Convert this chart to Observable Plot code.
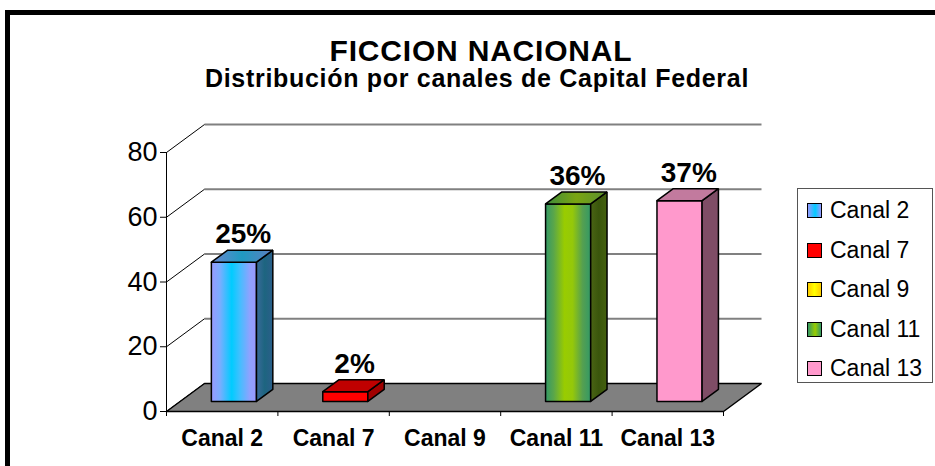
<!DOCTYPE html>
<html><head><meta charset="utf-8">
<script src="https://cdn.jsdelivr.net/npm/d3@7"></script>
<script src="https://cdn.jsdelivr.net/npm/@observablehq/plot@0.6"></script>
<style>
html,body{margin:0;padding:0;background:#fff;overflow:hidden;}
#wrap{position:relative;width:935px;height:466px;overflow:hidden;font-family:"Liberation Sans",Arial,sans-serif;color:#000;}
#frame{position:absolute;left:5px;top:10px;width:2000px;height:2000px;border-left:5px solid #000;border-top:5px solid #000;}
#title{position:absolute;left:0;width:962px;top:36px;text-align:center;font-weight:bold;font-size:30px;line-height:30px;letter-spacing:0.8px;white-space:nowrap;}
#subtitle{position:absolute;left:0;width:954px;top:66px;text-align:center;font-weight:bold;font-size:25px;line-height:25px;letter-spacing:0.7px;white-space:nowrap;}
#chart{position:absolute;left:0;top:0;}
#legend{position:absolute;left:797px;top:188px;width:136px;height:195px;border:1px solid #555;box-sizing:border-box;background:#fff;}
.item{position:absolute;left:0;height:23px;}
.sw{position:absolute;left:9px;width:13px;height:13px;border:1.5px solid #000;}
.lab{position:absolute;left:32px;font-size:23px;line-height:23px;white-space:nowrap;}
</style>
</head><body>
<div id="wrap">
  <div id="frame"></div>
  <div id="chart"></div>
  <div id="title">FICCION NACIONAL</div>
  <div id="subtitle">Distribución por canales de Capital Federal</div>
  <div id="legend"></div>
</div>
<script>
// ---- data ----
const channels = ["Canal 2", "Canal 7", "Canal 9", "Canal 11", "Canal 13"];
const values = [43, 3, 0, 61, 62];
const percentLabels = ["25%", "2%", "", "36%", "37%"];
const yTicks = [0, 20, 40, 60, 80];

// ---- styles ----
const barStyle = {
  "Canal 2": {
    front: [[0, "#9999FF"], [0.2, "#77AEFF"], [0.45, "#00CCFF"], [0.62, "#3EC0FF"], [0.85, "#8FA2FF"], [1, "#9999FF"]],
    side: [[0, "#3A6A9A"], [0.5, "#1D6580"], [1, "#2B5E8A"]],
    top: [[0, "#6A86D0"], [0.5, "#1F9AC0"], [1, "#5E7EC0"]],
    swatch: "linear-gradient(90deg,#9999FF,#00CCFF 55%,#9999FF)"
  },
  "Canal 7": {
    front: [[0, "#FF0000"], [1, "#FF0000"]],
    side: [[0, "#A00000"], [1, "#A00000"]],
    top: [[0, "#C00000"], [1, "#C00000"]],
    swatch: "#FF0000"
  },
  "Canal 9": {
    front: [[0, "#FFCC00"], [0.5, "#FFFF00"], [1, "#FFCC00"]],
    side: [[0, "#998000"], [1, "#998000"]],
    top: [[0, "#CCB000"], [1, "#CCB000"]],
    swatch: "linear-gradient(90deg,#FFCC00,#FFFF00 50%,#FFCC00)"
  },
  "Canal 11": {
    front: [[0, "#339966"], [0.18, "#5AA64A"], [0.42, "#99CC00"], [0.6, "#94C80A"], [0.82, "#55A050"], [1, "#339966"]],
    side: [[0, "#4A6414"], [0.5, "#3A560C"], [1, "#44600E"]],
    top: [[0, "#3F8C3C"], [0.5, "#7AA412"], [1, "#5A9030"]],
    swatch: "linear-gradient(90deg,#339966,#99CC00 55%,#339966)"
  },
  "Canal 13": {
    front: [[0, "#FF99CC"], [1, "#FF99CC"]],
    side: [[0, "#7F4D66"], [1, "#7F4D66"]],
    top: [[0, "#C27A9E"], [1, "#C27A9E"]],
    swatch: "#FF99CC"
  }
};

// ---- geometry ----
const W = 935, H = 466, mL = 166, mR = 212, mT = 152, mB = 55;
const yMax = yTicks[yTicks.length - 1];
const pxX = (W - mL - mR) / channels.length, pxY = (H - mT - mB) / yMax;
const DEPTH_X = 38, DEPTH_Y = 28;
const ddx = DEPTH_X / pxX, ddy = DEPTH_Y / pxY;
const P = (xu, v, d) => ({x: xu + d * ddx, y: v + d * ddy});
const d0 = 0.36, d1 = 0.79, b0 = 0.28, b1 = 0.685;
const n = channels.length;

const faces = [];
channels.forEach((c, i) => {
  const v = values[i];
  if (!(v > 0)) return;
  const x0 = i + b0, x1 = i + b1;
  faces.push({pts: [P(x0, 0, d0), P(x1, 0, d0), P(x1, v, d0), P(x0, v, d0)], fill: `url(#g${i}front)`});
  faces.push({pts: [P(x1, 0, d0), P(x1, 0, d1), P(x1, v, d1), P(x1, v, d0)], fill: `url(#g${i}side)`});
  faces.push({pts: [P(x0, v, d0), P(x1, v, d0), P(x1, v, d1), P(x0, v, d1)], fill: `url(#g${i}top)`});
});
const floor = [P(0, 0, 0), P(n, 0, 0), P(n, 0, 1), P(0, 0, 1)];
const closed = pts => [...pts, pts[0]];
const idx = d3.range(n);

const chart = Plot.plot({
  width: W, height: H,
  marginLeft: mL, marginRight: mR, marginTop: mT, marginBottom: mB,
  x: {type: "linear", domain: [0, n]},
  y: {type: "linear", domain: [0, yMax]},
  style: {fontFamily: '"Liberation Sans", Arial, sans-serif', background: "transparent", overflow: "visible"},
  marks: [
    // back wall gridlines
    Plot.link(yTicks.filter(v => v > 0), {
      x1: () => P(0, 0, 1).x, x2: () => P(n, 0, 1).x,
      y1: v => P(0, v, 1).y, y2: v => P(0, v, 1).y,
      stroke: "#808080", strokeWidth: 2
    }),
    // side wall diagonals
    Plot.link(yTicks, {
      x1: () => 0, x2: () => P(0, 0, 1).x,
      y1: v => v, y2: v => P(0, v, 1).y,
      stroke: "#000", strokeWidth: 1
    }),
    // floor
    Plot.line(closed(floor), {x: "x", y: "y", fill: "#808080", stroke: "#000", strokeWidth: 1.5, strokeLinejoin: "miter"}),
    // front value axis
    Plot.ruleX([0], {y1: 0, y2: yMax, stroke: "#000", strokeWidth: 1}),
    Plot.axisY({ticks: yTicks, tickSize: 6, tickPadding: 3, fontSize: 27, label: null, tickFormat: d => String(d)}),
    // category axis
    Plot.axisX({ticks: d3.range(0, n + 1), tickSize: 5, tickFormat: () => "", label: null}),
    Plot.axisX({ticks: idx.map(i => i + 0.5), tickSize: 0, tickPadding: 18, fontSize: 23, fontWeight: "bold", label: null,
      tickFormat: t => channels[Math.round(t - 0.5)]}),
    // bars
    ...faces.map(f => Plot.line(closed(f.pts), {x: "x", y: "y", fill: f.fill, stroke: "#000", strokeWidth: 1.5, strokeLinejoin: "miter"})),
    // percentage labels
    Plot.text(idx.filter(i => values[i] > 0), {
      x: i => i + 0.5, y: i => values[i], text: i => percentLabels[i],
      dx: 21, dy: -38, fontSize: 28, fontWeight: "bold", fill: "#000", lineAnchor: "middle"
    })
  ]
});
document.getElementById("chart").appendChild(chart);

// gradients
const defs = d3.select(chart).insert("defs", ":first-child");
channels.forEach((c, i) => {
  ["front", "side", "top"].forEach(face => {
    const g = defs.append("linearGradient").attr("id", `g${i}${face}`)
      .attr("x1", "0").attr("y1", "0").attr("x2", "1").attr("y2", "0");
    barStyle[c][face].forEach(([o, col]) => g.append("stop").attr("offset", o).attr("stop-color", col));
  });
});

// legend
const legend = document.getElementById("legend");
channels.forEach((c, i) => {
  const item = document.createElement("div");
  item.className = "item";
  item.style.top = (10 + 39.5 * i) + "px";
  const sw = document.createElement("div");
  sw.className = "sw";
  sw.style.top = "4px";
  sw.style.background = barStyle[c].swatch;
  const lab = document.createElement("div");
  lab.className = "lab";
  lab.style.top = "0px";
  lab.textContent = c;
  item.appendChild(sw); item.appendChild(lab);
  legend.appendChild(item);
});
</script>
</body></html>
